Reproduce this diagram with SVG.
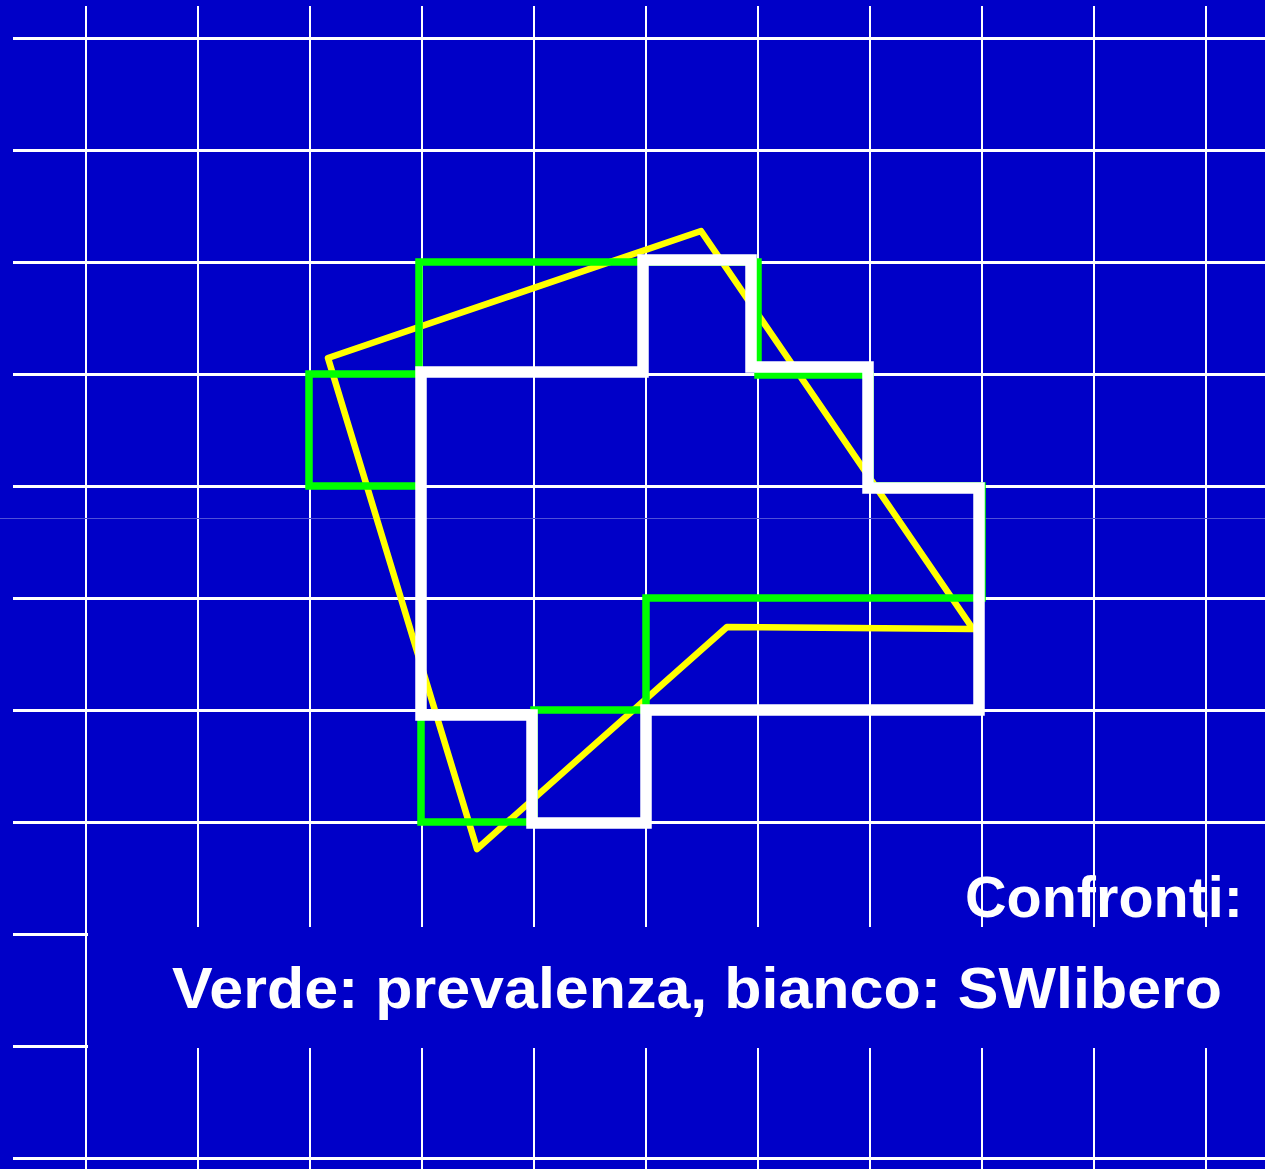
<svg xmlns="http://www.w3.org/2000/svg" width="1265" height="1169" viewBox="0 0 1265 1169">
<style>
.h{stroke:#fff;stroke-width:3}
.v{stroke:#fff;stroke-width:2}
.shape{fill:none}
.txt{fill:#fff;font-family:"Comic Sans MS","Liberation Sans",Arial,sans-serif;font-weight:bold}
</style>
<rect width="1265" height="1169" fill="#0000C8"/>
<g id="grid">
<line class="v" x1="86" y1="6" x2="86" y2="1169"/>
<line class="v" x1="198" y1="6" x2="198" y2="1169"/>
<line class="v" x1="310" y1="6" x2="310" y2="1169"/>
<line class="v" x1="422" y1="6" x2="422" y2="1169"/>
<line class="v" x1="534" y1="6" x2="534" y2="1169"/>
<line class="v" x1="646" y1="6" x2="646" y2="1169"/>
<line class="v" x1="758" y1="6" x2="758" y2="1169"/>
<line class="v" x1="870" y1="6" x2="870" y2="1169"/>
<line class="v" x1="982" y1="6" x2="982" y2="1169"/>
<line class="v" x1="1094" y1="6" x2="1094" y2="1169"/>
<line class="v" x1="1206" y1="6" x2="1206" y2="1169"/>
<line class="h" x1="13" y1="38.5" x2="1265" y2="38.5"/>
<line class="h" x1="13" y1="150.5" x2="1265" y2="150.5"/>
<line class="h" x1="13" y1="262.5" x2="1265" y2="262.5"/>
<line class="h" x1="13" y1="374.5" x2="1265" y2="374.5"/>
<line class="h" x1="13" y1="486.5" x2="1265" y2="486.5"/>
<line class="h" x1="13" y1="598.5" x2="1265" y2="598.5"/>
<line class="h" x1="13" y1="710.5" x2="1265" y2="710.5"/>
<line class="h" x1="13" y1="822.5" x2="1265" y2="822.5"/>
<line class="h" x1="13" y1="934.5" x2="1265" y2="934.5"/>
<line class="h" x1="13" y1="1046.5" x2="1265" y2="1046.5"/>
<line class="h" x1="13" y1="1158.5" x2="1265" y2="1158.5"/>
<line x1="0" y1="518.5" x2="1265" y2="518.5" stroke="#5050D8" stroke-width="1"/>
</g>
<g id="shapes">
<polygon id="yellow" class="shape" points="328,358 701,231 973,629 727,627 477,849" stroke="#FFFF00" stroke-width="6.5" stroke-linejoin="round"/>
<polygon id="green" class="shape" points="419,262 758,262 758,375 870,375 870,486 982,486 982,598 646,598 646,710 534,710 534,822 421,822 421,486 309,486 309,374 419,374" stroke="#00FF00" stroke-width="7.5" stroke-linejoin="miter"/>
<polygon id="white" class="shape" points="421,372 643,372 643,260 751,260 751,367 868,367 868,488 979,488 979,710 646,710 646,823 532,823 532,715 421,715" stroke="#FFFFFF" stroke-width="11.5" stroke-linejoin="miter"/>
</g>
<g id="caption">
<rect x="88" y="927" width="1177" height="121" fill="#0000C8"/>
<text class="txt" x="965" y="917" font-size="58" textLength="278" lengthAdjust="spacingAndGlyphs">Confronti:</text>
<text class="txt" x="172" y="1008" font-size="58" textLength="1050" lengthAdjust="spacingAndGlyphs">Verde: prevalenza, bianco: SWlibero</text>
</g>
</svg>
